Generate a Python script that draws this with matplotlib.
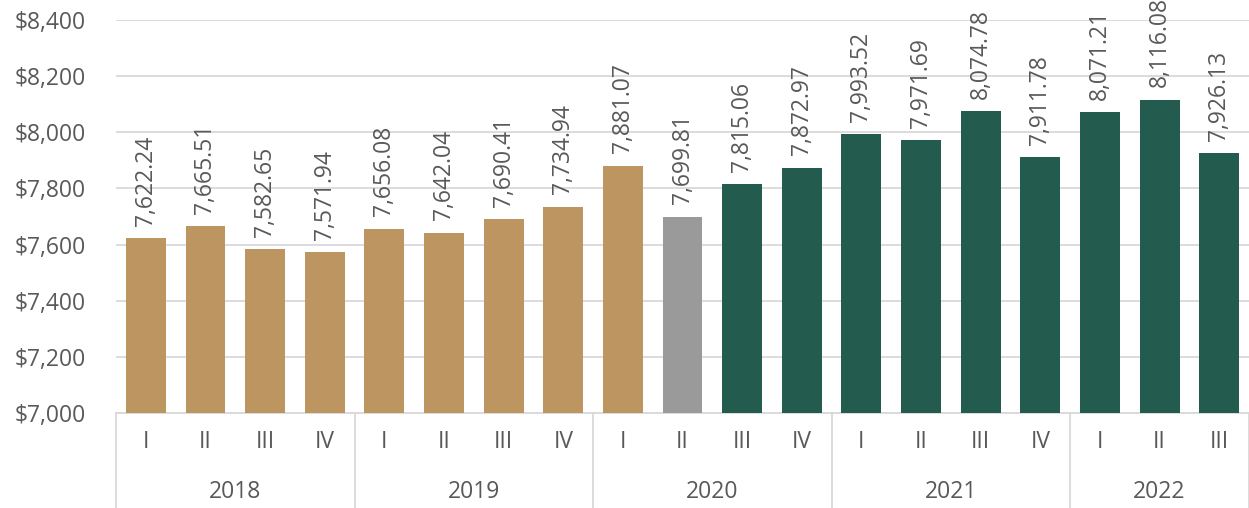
import numpy as np
import matplotlib
matplotlib.use("Agg")
import matplotlib.pyplot as plt

plt.rcParams['font.family'] = ['Open Sans', 'DejaVu Sans']

quarters = ['I', 'II', 'III', 'IV', 'I', 'II', 'III', 'IV', 'I', 'II', 'III', 'IV',
            'I', 'II', 'III', 'IV', 'I', 'II', 'III']
years = ['2018', '2019', '2020', '2021', '2022']
year_counts = [4, 4, 4, 4, 3]
values = [7622.24, 7665.51, 7582.65, 7571.94, 7656.08, 7642.04, 7690.41, 7734.94,
          7881.07, 7699.81, 7815.06, 7872.97, 7993.52, 7971.69, 8074.78, 7911.78,
          8071.21, 8116.08, 7926.13]
bar_colors = ['#BC9560'] * 9 + ['#9A9A9B'] + ['#235B4E'] * 9

txt = '#595959'
grid = '#D9D9D9'
fs = 16.5

fig = plt.figure(figsize=(12.49, 5.08), dpi=100)
ax = fig.add_axes([0.0929, 0.187, 0.9071, 0.7736])

x = np.arange(len(values))
ax.bar(x, values, width=0.67, color=bar_colors, zorder=3)
ax.set_ylim(7000, 8400)
ax.set_xlim(-0.5, len(values) - 0.5)
yt = np.arange(7000, 8401, 200)
ax.set_yticks(yt)
ax.set_yticklabels(['${:,}'.format(v) for v in yt], fontsize=fs, color=txt)
ax.tick_params(axis='y', length=0, pad=22)
ax.grid(axis='y', color=grid, linewidth=1.3, zorder=0)
for s in ['top', 'right', 'left']:
    ax.spines[s].set_visible(False)
ax.spines['bottom'].set_color(grid)
ax.spines['bottom'].set_linewidth(1.3)

for xi, v in zip(x, values):
    ax.annotate('{:,.2f}'.format(v), (xi, v), xytext=(0, 9), textcoords='offset points',
                rotation=90, ha='center', va='bottom', fontsize=fs, color=txt)

ax.set_xticks(x)
ax.set_xticklabels(quarters, fontsize=fs, color=txt)
ax.tick_params(axis='x', length=0, pad=12)

# year row and separators
trans = ax.get_xaxis_transform()
start = -0.5
ax.plot([start, start], [0, -0.245], transform=trans, color=grid, lw=1.3, clip_on=False)
for yr, n in zip(years, year_counts):
    end = start + n
    ax.text((start + end) / 2, -0.2, yr, transform=trans, ha='center', va='center',
            fontsize=fs, color=txt)
    ax.plot([end, end], [0, -0.245], transform=trans, color=grid, lw=1.3, clip_on=False)
    start = end

fig.savefig('out.png', dpi=100)
